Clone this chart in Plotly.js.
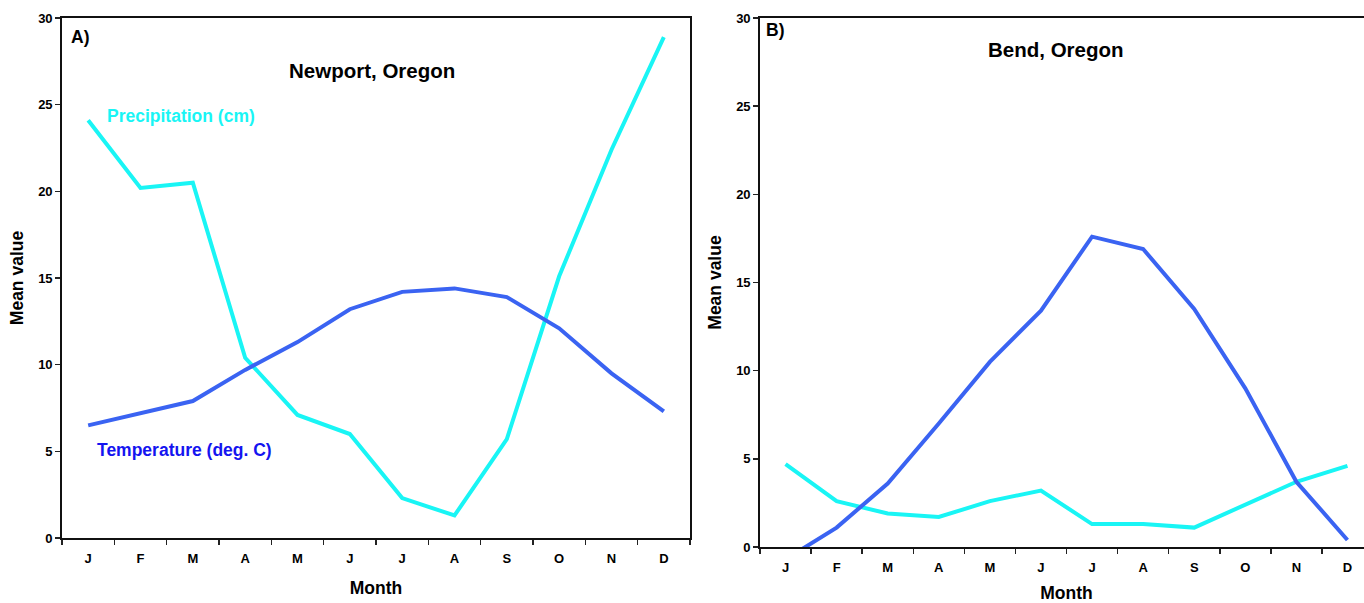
<!DOCTYPE html>
<html>
<head>
<meta charset="utf-8">
<script src="https://cdn.plot.ly/plotly-3.0.1.min.js"></script>
<style>
html,body{margin:0;padding:0;overflow:hidden;background:#fff;}
#chart{width:1380px;height:603px;}
</style>
</head>
<body>
<div id="chart"></div>
<script>
// Month positions and labels
const monthPos = [1,2,3,4,5,6,7,8,9,10,11,12];
const monthLabels = ["J","F","M","A","M","J","J","A","S","O","N","D"];

// A) Newport, Oregon
const newportPrecip = [24.1,20.2,20.5,10.4,7.1,6.0,2.3,1.3,5.7,15.1,22.4,28.9];
const newportTemp   = [6.5,7.2,7.9,9.7,11.3,13.2,14.2,14.4,13.9,12.1,9.5,7.3];

// B) Bend, Oregon
const bendPrecip = [4.7,2.6,1.9,1.7,2.6,3.2,1.3,1.3,1.1,2.4,3.7,4.6];
const bendTemp   = [-0.7,1.1,3.6,7.0,10.5,13.4,17.6,16.9,13.5,9.0,3.7,0.4];

const yTicks = [0,5,10,15,20,25,30];

const W = 1380, H = 603;
const FONT = "Liberation Sans, Arial, sans-serif";
const PRECIP_COLOR = "#19f5f5";
const TEMP_COLOR = "#3a63f2";

function px(x){ return x / W; }
function py(y){ return (H - y) / H; }

function xAxis(domain, anchor){
  return {
    domain: domain, anchor: anchor, range: [0.5, 12.5],
    tickmode: "array", tickvals: monthPos, ticktext: monthLabels,
    ticks: "outside", ticklen: 8, tickcolor: "rgba(0,0,0,0)",
    tickfont: {family: FONT, size: 13, color: "#000", weight: "bold"},
    minor: {tick0: 0.5, dtick: 1, ticks: "outside", ticklen: 5, tickwidth: 1.5, tickcolor: "#222"},
    showline: true, linecolor: "#111", linewidth: 1.8, mirror: true,
    showgrid: false, zeroline: false, fixedrange: true,
    title: {text: "Month", font: {family: FONT, size: 17.5, color: "#000", weight: "bold"}, standoff: 16}
  };
}
function yAxis(domain, anchor){
  return {
    domain: domain, anchor: anchor, range: [0, 30],
    tickmode: "array", tickvals: yTicks,
    ticks: "outside", ticklen: 5, tickwidth: 1.5, tickcolor: "#222",
    tickfont: {family: FONT, size: 13, color: "#000", weight: "bold"},
    showline: true, linecolor: "#111", linewidth: 1.8, mirror: true,
    showgrid: false, zeroline: false, fixedrange: true,
    title: {text: "Mean value", font: {family: FONT, size: 17.5, color: "#000", weight: "bold"}, standoff: 10}
  };
}

const data = [
  {x: monthPos, y: newportPrecip, xaxis: "x", yaxis: "y", mode: "lines", name: "Precipitation (cm)",
   line: {color: PRECIP_COLOR, width: 4}, hoverinfo: "y"},
  {x: monthPos, y: newportTemp, xaxis: "x", yaxis: "y", mode: "lines", name: "Temperature (deg. C)",
   line: {color: TEMP_COLOR, width: 4}, hoverinfo: "y"},
  {x: monthPos, y: bendPrecip, xaxis: "x2", yaxis: "y2", mode: "lines", name: "Precipitation (cm)",
   line: {color: PRECIP_COLOR, width: 4}, hoverinfo: "y"},
  {x: monthPos, y: bendTemp, xaxis: "x2", yaxis: "y2", mode: "lines", name: "Temperature (deg. C)",
   line: {color: TEMP_COLOR, width: 4}, hoverinfo: "y"}
];

function ann(text, x, y, size, color, xanchor){
  return {text: text, x: px(x), y: py(y), xref: "paper", yref: "paper",
    xanchor: xanchor || "center", yanchor: "middle", showarrow: false,
    font: {family: FONT, size: size, color: color, weight: "bold"}};
}

const layout = {
  width: W, height: H,
  margin: {l: 0, r: 0, t: 0, b: 0},
  paper_bgcolor: "#fff", plot_bgcolor: "#fff",
  showlegend: false,
  xaxis: xAxis([px(62), px(690)], "y"),
  yaxis: yAxis([py(538), py(18)], "x"),
  xaxis2: xAxis([px(760), px(1373)], "y2"),
  yaxis2: yAxis([py(547), py(18)], "x2"),
  annotations: [
    ann("A)", 69, 37, 17.5, "#000", "left"),
    ann("Newport, Oregon", 372, 70, 20.5, "#000"),
    ann("Precipitation (cm)", 105, 116, 17.5, PRECIP_COLOR, "left"),
    ann("Temperature (deg. C)", 95, 450, 17.5, "#1414f0", "left"),
    ann("B)", 764, 30, 17.5, "#000", "left"),
    ann("Bend, Oregon", 1056, 50, 20.5, "#000")
  ]
};

Plotly.newPlot("chart", data, layout, {staticPlot: true, displayModeBar: false});
</script>
</body>
</html>
